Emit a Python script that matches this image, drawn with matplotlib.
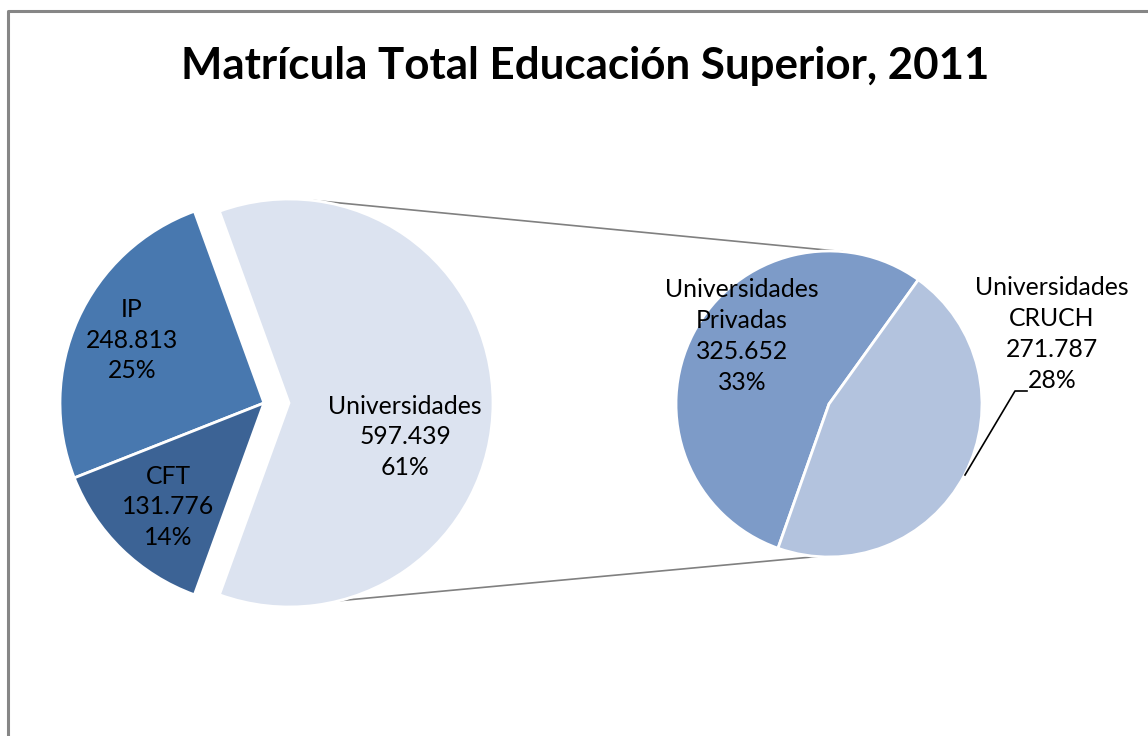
import matplotlib.pyplot as plt
import numpy as np

# data
main_labels = ['Universidades', 'IP', 'CFT']
main_values = [597439, 248813, 131776]
main_pct = ['61%', '25%', '14%']
sub_labels = ['Universidades\nPrivadas', 'Universidades\nCRUCH']
sub_values = [325652, 271787]
sub_pct = ['33%', '28%']

main_colors = ['#DCE3F0', '#4878AF', '#3C6395']
sub_colors = ['#7D9BC8', '#B3C3DE']

plt.rcParams['font.family'] = ['Lato', 'DejaVu Sans']

W, H = 1148, 736
fig = plt.figure(figsize=(W / 100, H / 100), dpi=100)
ax = fig.add_axes([0, 0, 1, 1])

def fmt(v):
    return '{:,}'.format(v).replace(',', '.')

# left pie (Universidades exploded toward the second pie)
c1 = (264, 333)
r1 = 204
expl = 25
frac0 = main_values[0] / sum(main_values)
start1 = -frac0 * 180
w1, _ = ax.pie(main_values, colors=main_colors, startangle=start1, counterclock=True,
               center=c1, radius=r1, explode=[expl, 0, 0], frame=True,
               wedgeprops=dict(edgecolor='white', linewidth=2))

# right pie
c2 = (829, 332)
r2 = 153
start2 = 54.3
w2, _ = ax.pie(sub_values, colors=sub_colors, startangle=start2, counterclock=True,
               center=c2, radius=r2, frame=True,
               wedgeprops=dict(edgecolor='white', linewidth=2))

# connector lines
ce = (c1[0] + expl, c1[1])
for a1, a2 in [(84, 85), (-75.7, -94.5)]:
    p1 = (ce[0] + r1 * np.cos(np.radians(a1)), ce[1] + r1 * np.sin(np.radians(a1)))
    p2 = (c2[0] + r2 * np.cos(np.radians(a2)), c2[1] + r2 * np.sin(np.radians(a2)))
    ax.plot([p1[0], p2[0]], [p1[1], p2[1]], color='#808080', lw=1.2, zorder=0)

# data labels
fs = 17.8
ls = 1.42
ax.text(405, H - 437, main_labels[0] + '\n' + fmt(main_values[0]) + '\n' + main_pct[0],
        ha='center', va='center', fontsize=fs, linespacing=ls)
ax.text(132, H - 340, main_labels[1] + '\n' + fmt(main_values[1]) + '\n' + main_pct[1],
        ha='center', va='center', fontsize=fs, linespacing=ls)
ax.text(168, H - 507, main_labels[2] + '\n' + fmt(main_values[2]) + '\n' + main_pct[2],
        ha='center', va='center', fontsize=fs, linespacing=ls)
ax.text(742, H - 336, sub_labels[0] + '\n' + fmt(sub_values[0]) + '\n' + sub_pct[0],
        ha='center', va='center', fontsize=fs, linespacing=ls)
ax.text(1052, H - 334, sub_labels[1] + '\n' + fmt(sub_values[1]) + '\n' + sub_pct[1],
        ha='center', va='center', fontsize=fs, linespacing=ls)

# leader line for CRUCH
ax.plot([965, 1015, 1027], [H - 475, H - 391, H - 391], color='black', lw=1.2)

ax.text(585, H - 66, 'Matrícula Total Educación Superior, 2011', ha='center', va='center',
        fontsize=31.6, fontweight='bold')

# chart border
ax.plot([8, 8, W], [0, H - 11, H - 11], color='#868686', lw=2.2, clip_on=False)

ax.set_xlim(0, W)
ax.set_ylim(0, H)
ax.set_aspect('equal')
ax.axis('off')

fig.savefig('out.png', dpi=100)
